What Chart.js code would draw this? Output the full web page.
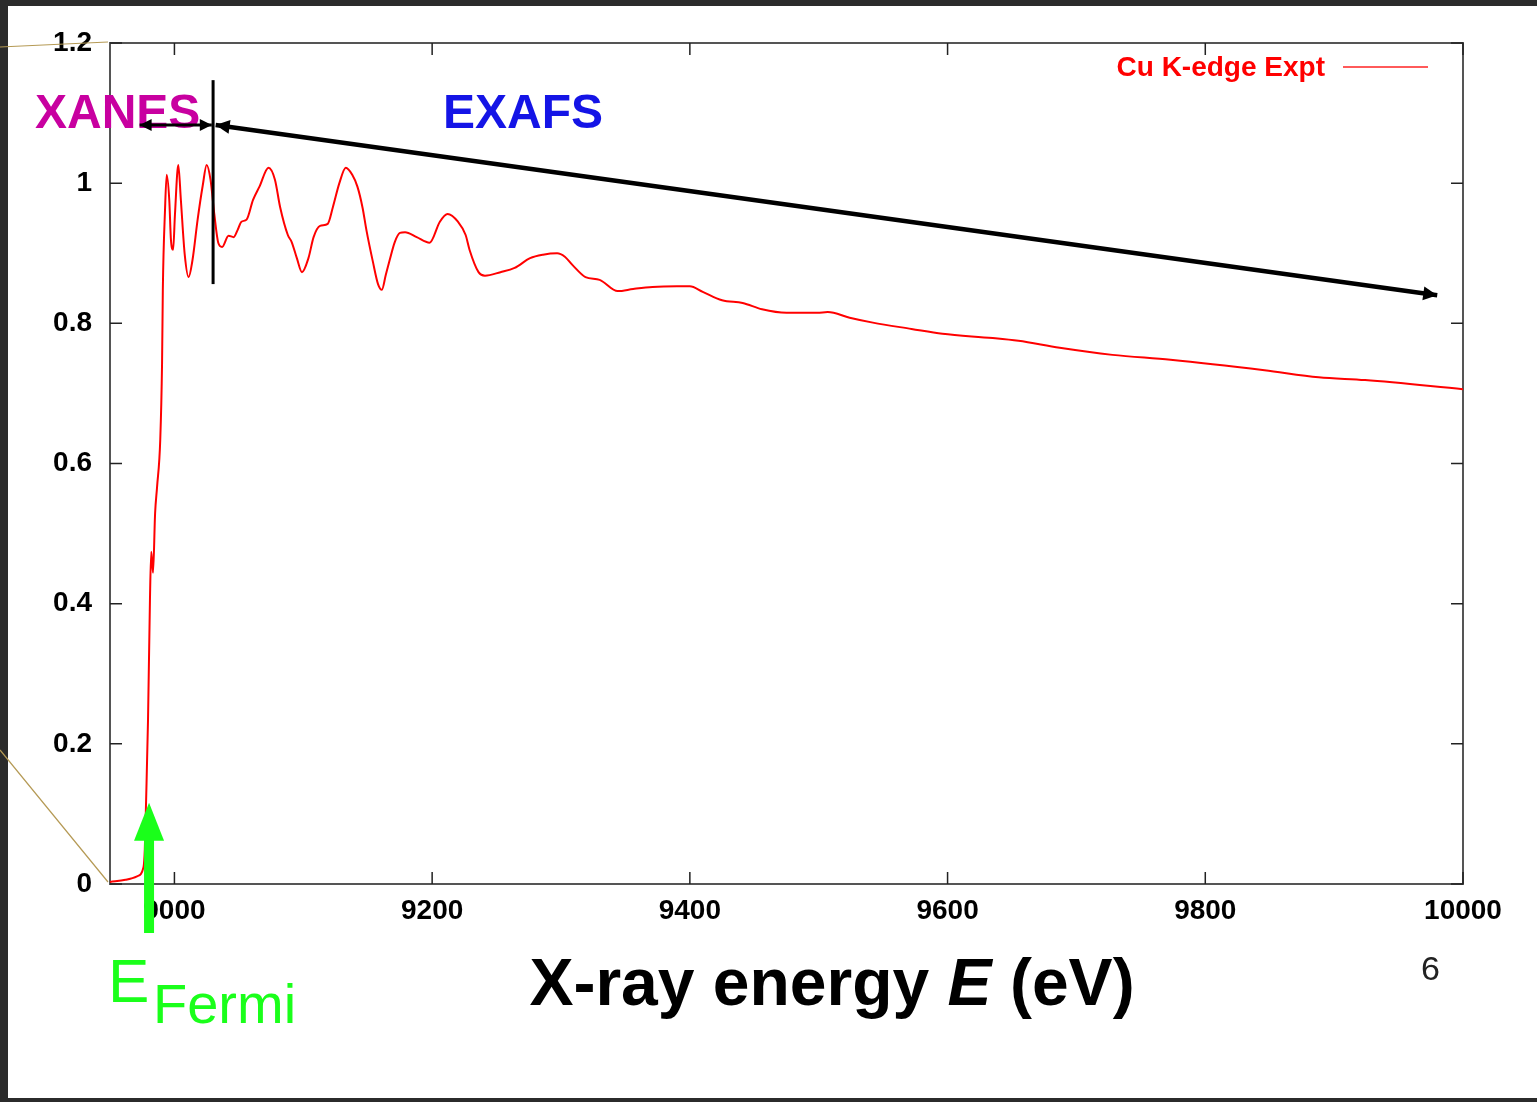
<!DOCTYPE html>
<html>
<head>
<meta charset="utf-8">
<title>Cu K-edge</title>
<script src="https://cdn.jsdelivr.net/npm/chart.js@4.4.0/dist/chart.umd.min.js"></script>
<style>
html,body{margin:0;padding:0;background:#2b2b2b;}
#chart-div{width:1537px;height:1102px;}
</style>
</head>
<body>
<div id="chart-div"><canvas id="xasChart" width="1537" height="1102"></canvas></div>
<script>
/* ---------------------------- Data --------------------------------------------- */

const energies = [8950, 8962, 8971, 8976, 8977, 8978, 8979.5, 8981, 8982, 8983.4, 8985, 8986.5, 8989, 8990.4, 8991, 8992.7, 8994, 8996, 8997.3, 8999,
    9000.4, 9003, 9005, 9008, 9011, 9014, 9018, 9022, 9025, 9028, 9031, 9034, 9037, 9042, 9046, 9049, 9052, 9056, 9061, 9066,
    9073, 9078, 9082, 9088, 9091, 9095, 9099, 9104, 9108, 9113, 9119, 9123, 9128, 9133, 9138, 9142, 9146, 9149, 9154, 9158,
    9161, 9164, 9167, 9171, 9175, 9179, 9188, 9198, 9206, 9212, 9220, 9226, 9229, 9236, 9241, 9253, 9264, 9276, 9286, 9297,
    9303, 9309, 9319, 9330, 9344, 9356, 9371, 9390, 9400, 9410, 9425, 9441, 9456, 9475, 9499, 9507, 9524, 9542, 9572, 9596,
    9635, 9655, 9687, 9728, 9773, 9846, 9888, 9924, 10000]

const absorption = [0.003, 0.006, 0.011, 0.024, 0.049, 0.118, 0.234, 0.405, 0.474, 0.444, 0.529, 0.566, 0.634, 0.743, 0.848, 0.962, 1.012, 0.976, 0.919, 0.905,
    0.955, 1.026, 0.976, 0.898, 0.866, 0.890, 0.948, 0.997, 1.026, 1.005, 0.955, 0.915, 0.909, 0.925, 0.923, 0.933, 0.945, 0.948, 0.976, 0.995,
    1.022, 1.005, 0.966, 0.926, 0.916, 0.893, 0.873, 0.893, 0.923, 0.939, 0.942, 0.966, 1.000, 1.022, 1.012, 0.995, 0.965, 0.933, 0.888, 0.856,
    0.848, 0.869, 0.890, 0.916, 0.929, 0.930, 0.923, 0.915, 0.945, 0.956, 0.945, 0.926, 0.905, 0.873, 0.868, 0.873, 0.879, 0.893, 0.898, 0.900,
    0.895, 0.883, 0.866, 0.862, 0.846, 0.849, 0.852, 0.853, 0.853, 0.845, 0.833, 0.829, 0.820, 0.815, 0.815, 0.816, 0.808, 0.801, 0.792, 0.785,
    0.779, 0.775, 0.765, 0.755, 0.748, 0.733, 0.723, 0.719, 0.706]

const xTicks = [9000, 9200, 9400, 9600, 9800, 10000]
const yTicks = [0, 0.2, 0.4, 0.6, 0.8, 1, 1.2]
const seriesLabel = 'Cu K-edge Expt'

// annotation anchors, in data units (eV, absorption)
const boundaryLine = [[9030, 1.147], [9030, 0.856]]
const xanesArrow = [[8973, 1.083], [9029, 1.083]]
const exafsArrow = [[9032, 1.083], [9980, 0.840]]
const fermiArrow = [[8980.3, -0.07], [8980.3, 0.116]]

/* ---------------------------- Drawing helpers --------------------------------------------- */

const FONT = '"Liberation Sans", Arial, sans-serif'

const arrowHead = (ctx, x0, y0, x1, y1, len, half) => {
    const a = Math.atan2(y1 - y0, x1 - x0)
    ctx.beginPath()
    ctx.moveTo(x1, y1)
    ctx.lineTo(x1 - len * Math.cos(a) + half * Math.sin(a), y1 - len * Math.sin(a) - half * Math.cos(a))
    ctx.lineTo(x1 - len * Math.cos(a) - half * Math.sin(a), y1 - len * Math.sin(a) + half * Math.cos(a))
    ctx.closePath()
    ctx.fill()
}

const arrow = (ctx, p0, p1, width, len, half, both) => {
    ctx.lineWidth = width
    ctx.beginPath()
    ctx.moveTo(p0[0], p0[1])
    ctx.lineTo(p1[0], p1[1])
    ctx.stroke()
    arrowHead(ctx, p0[0], p0[1], p1[0], p1[1], len, half)
    if (both) arrowHead(ctx, p1[0], p1[1], p0[0], p0[1], len, half)
}

const decoPlugin = {
    id: 'deco',
    beforeDraw: (chart) => {
        const ctx = chart.ctx
        ctx.save()
        ctx.fillStyle = '#2b2b2b'
        ctx.fillRect(0, 0, chart.width, chart.height)
        ctx.fillStyle = '#ffffff'
        ctx.fillRect(8, 6, chart.width - 8, chart.height - 10)
        ctx.restore()
    },
    beforeDatasetsDraw: (chart) => {
        const ctx = chart.ctx
        const a = chart.chartArea
        const xs = chart.scales.x
        const ys = chart.scales.y
        ctx.save()
        ctx.strokeStyle = '#555555'
        ctx.lineWidth = 2
        ctx.strokeRect(a.left, a.top, a.right - a.left, a.bottom - a.top)
        ctx.strokeStyle = '#222222'
        ctx.lineWidth = 1.5
        ctx.beginPath()
        xTicks.forEach(v => {
            const px = xs.getPixelForValue(v)
            ctx.moveTo(px, a.bottom); ctx.lineTo(px, a.bottom - 12)
            ctx.moveTo(px, a.top); ctx.lineTo(px, a.top + 12)
        })
        yTicks.forEach(v => {
            const py = ys.getPixelForValue(v)
            ctx.moveTo(a.left, py); ctx.lineTo(a.left + 12, py)
            ctx.moveTo(a.right, py); ctx.lineTo(a.right - 12, py)
        })
        ctx.stroke()
        ctx.restore()
    },
    afterDraw: (chart) => {
        const ctx = chart.ctx
        const a = chart.chartArea
        const xs = chart.scales.x
        const ys = chart.scales.y
        const px = p => [xs.getPixelForValue(p[0]), ys.getPixelForValue(p[1])]
        ctx.save()

        // slide connector lines
        ctx.strokeStyle = '#b59a55'
        ctx.lineWidth = 1.2
        ctx.beginPath()
        ctx.moveTo(0, 47); ctx.lineTo(a.left - 2, a.top - 1)
        ctx.moveTo(0, 750); ctx.lineTo(a.left - 2, a.bottom - 2)
        ctx.stroke()

        // legend
        ctx.font = 'bold 28px ' + FONT
        ctx.fillStyle = '#ff0000'
        ctx.textAlign = 'right'
        ctx.textBaseline = 'middle'
        ctx.fillText(seriesLabel, a.right - 138, a.top + 25)
        ctx.strokeStyle = '#ff5a5a'
        ctx.lineWidth = 2
        ctx.beginPath()
        ctx.moveTo(a.right - 120, a.top + 24)
        ctx.lineTo(a.right - 35, a.top + 24)
        ctx.stroke()

        // region labels
        ctx.textAlign = 'left'
        ctx.textBaseline = 'alphabetic'
        ctx.font = 'bold 48px ' + FONT
        ctx.fillStyle = '#c800a0'
        ctx.fillText('XANES', 35, 128)
        ctx.fillStyle = '#1414e6'
        ctx.fillText('EXAFS', 443, 128)

        // black markers
        ctx.strokeStyle = '#000000'
        ctx.fillStyle = '#000000'
        ctx.lineWidth = 3
        const b0 = px(boundaryLine[0]), b1 = px(boundaryLine[1])
        ctx.beginPath()
        ctx.moveTo(b0[0], b0[1]); ctx.lineTo(b1[0], b1[1])
        ctx.stroke()
        arrow(ctx, px(xanesArrow[0]), px(xanesArrow[1]), 3, 12, 6, true)
        arrow(ctx, px(exafsArrow[0]), px(exafsArrow[1]), 4.5, 14, 7, true)

        // Fermi arrow
        ctx.strokeStyle = '#1aff1a'
        ctx.fillStyle = '#1aff1a'
        const f0 = px(fermiArrow[0]), f1 = px(fermiArrow[1])
        ctx.lineWidth = 10
        ctx.beginPath()
        ctx.moveTo(f0[0], f0[1]); ctx.lineTo(f1[0], f1[1] + 30)
        ctx.stroke()
        arrowHead(ctx, f0[0], f0[1], f1[0], f1[1], 38, 15)

        ctx.font = '62px ' + FONT
        ctx.fillText('E', 108, 1002)
        ctx.font = '56px ' + FONT
        ctx.fillText('Fermi', 153, 1023)

        // axis title
        const partA = 'X-ray energy ', partB = 'E', partC = ' (eV)'
        ctx.fillStyle = '#000000'
        const bold = 'bold 66px ' + FONT, boldIt = 'italic bold 66px ' + FONT
        ctx.font = bold
        const wA = ctx.measureText(partA).width, wC = ctx.measureText(partC).width
        ctx.font = boldIt
        const wB = ctx.measureText(partB).width
        let tx = 832 - (wA + wB + wC) / 2
        ctx.font = bold
        ctx.fillText(partA, tx, 1005)
        ctx.font = boldIt
        ctx.fillText(partB, tx + wA, 1005)
        ctx.font = bold
        ctx.fillText(partC, tx + wA + wB, 1005)

        // slide number
        ctx.font = '34px ' + FONT
        ctx.fillStyle = '#222222'
        ctx.fillText('6', 1421, 980)

        ctx.restore()
    }
}

/* ---------------------------- Chart --------------------------------------------- */

const data = {
    datasets: [{
        label: seriesLabel,
        data: energies.map((e, i) => ({x: e, y: absorption[i]})),
        borderColor: 'rgb(255, 0, 0)',
        borderWidth: 2,
        pointRadius: 0,
        fill: false,
        cubicInterpolationMode: 'monotone'
    }]
}

const config = {
    type: 'line',
    data: data,
    plugins: [decoPlugin],
    options: {
        responsive: false,
        animation: false,
        devicePixelRatio: 1,
        layout: {
            padding: {left: 0, right: 74, top: 43, bottom: 0}
        },
        plugins: {
            legend: {display: false},
            tooltip: {enabled: false}
        },
        scales: {
            x: {
                type: 'linear',
                min: 8950,
                max: 10000,
                afterBuildTicks: scale => { scale.ticks = xTicks.map(v => ({value: v})) },
                afterFit: scale => { scale.height = 218 },
                grid: {display: false, drawTicks: false},
                border: {display: false},
                ticks: {
                    padding: 10,
                    color: '#000000',
                    font: {family: FONT, size: 28, weight: 'bold'},
                    callback: v => String(v)
                }
            },
            y: {
                min: 0,
                max: 1.2,
                afterBuildTicks: scale => { scale.ticks = yTicks.map(v => ({value: v})) },
                afterFit: scale => { scale.width = 110 },
                grid: {display: false, drawTicks: false},
                border: {display: false},
                ticks: {
                    padding: 18,
                    color: '#000000',
                    font: {family: FONT, size: 28, weight: 'bold'},
                    callback: v => String(v)
                }
            }
        }
    }
}

const ctx = document.getElementById('xasChart')
const xasChart = new Chart(ctx, config)
</script>
</body>
</html>
